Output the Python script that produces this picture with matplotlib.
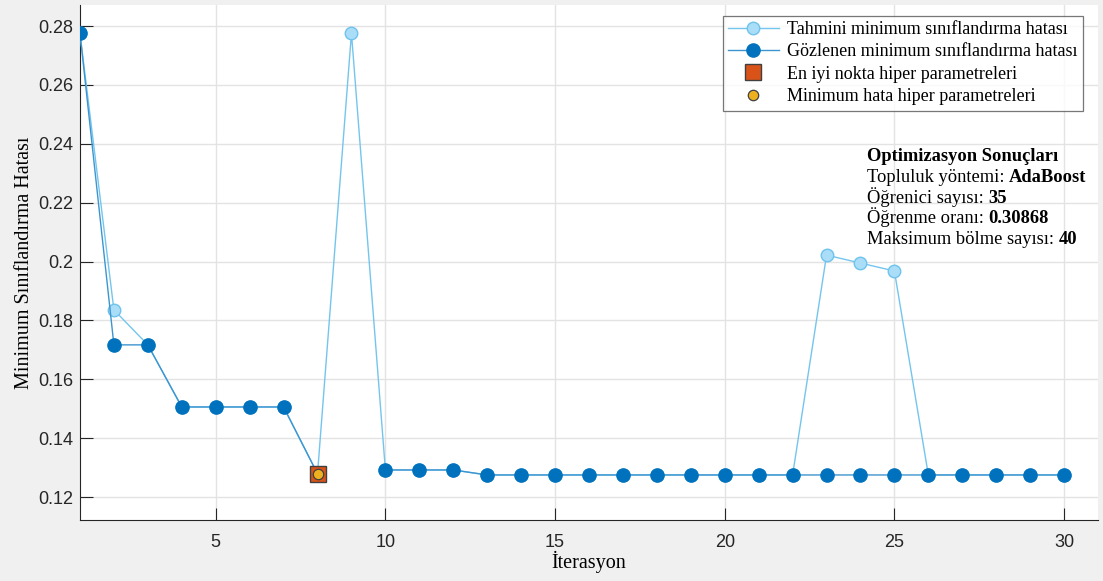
import numpy as np
import matplotlib
matplotlib.use("Agg")
import matplotlib.pyplot as plt

# iterasyon ve hata degerleri
iterasyon = np.arange(1, 31)
tahmini = [0.2776, 0.1836, 0.1717, 0.1506, 0.1506, 0.1506, 0.1506, 0.1279, 0.2776, 0.1292,
           0.1292, 0.1292, 0.1275, 0.1275, 0.1275, 0.1275, 0.1275, 0.1275, 0.1275, 0.1275,
           0.1275, 0.1275, 0.2022, 0.1995, 0.1968, 0.1275, 0.1275, 0.1275, 0.1275, 0.1275]
gozlenen = [0.2776, 0.1717, 0.1717, 0.1506, 0.1506, 0.1506, 0.1506, 0.1279, np.nan, 0.1292,
            0.1292, 0.1292, 0.1275, 0.1275, 0.1275, 0.1275, 0.1275, 0.1275, 0.1275, 0.1275,
            0.1275, 0.1275, 0.1275, 0.1275, 0.1275, 0.1275, 0.1275, 0.1275, 0.1275, 0.1275]
en_iyi = (8, 0.1279)
min_hata = (8, 0.1279)

x_ticks = [5, 10, 15, 20, 25, 30]
y_ticks = [0.12, 0.14, 0.16, 0.18, 0.2, 0.22, 0.24, 0.26, 0.28]
y_tick_labels = ["0.12", "0.14", "0.16", "0.18", "0.2", "0.22", "0.24", "0.26", "0.28"]

serif = "Liberation Serif"
sans = "Liberation Sans"

fig = plt.figure(figsize=(11.03, 5.81), dpi=100, facecolor="#f0f0f0")
ax = fig.add_axes([0.0725, 0.105, 0.923, 0.886])

ax.plot(iterasyon, tahmini, "-o", color="#74c5ee", lw=1.0, ms=9,
        mfc="#a9ddf8", mec="#6fc3ec", label="Tahmini minimum sınıflandırma hatası", zorder=3)
ax.plot(iterasyon, gozlenen, "-o", color="#3d95d0", lw=1.0, ms=9.5,
        mfc="#0072bd", mec="#0072bd", label="Gözlenen minimum sınıflandırma hatası", zorder=4)
ax.plot(*en_iyi, "s", ms=11, mfc="#d95319", mec="#404040", mew=1.0,
        label="En iyi nokta hiper parametreleri", zorder=5)
ax.plot(*min_hata, "o", ms=7.5, mfc="#edb120", mec="#404040", mew=0.9,
        label="Minimum hata hiper parametreleri", zorder=6)

ax.set_xlim(1, 31)
ax.set_ylim(0.1122, 0.2871)
ax.set_xticks(x_ticks)
ax.set_yticks(y_ticks)
ax.set_yticklabels(y_tick_labels)
ax.tick_params(direction="in", length=9, width=0.8, colors="#262626", labelsize=13)
for lab in ax.get_xticklabels() + ax.get_yticklabels():
    lab.set_fontfamily(sans)
ax.tick_params(axis="x", pad=10)
ax.tick_params(axis="y", pad=5)

ax.grid(True, color="#e3e3e3", lw=1.0)
ax.set_axisbelow(True)
for s in ["top", "right"]:
    ax.spines[s].set_visible(False)
for s in ["left", "bottom"]:
    ax.spines[s].set_color("#262626")
    ax.spines[s].set_linewidth(0.8)

ax.set_xlabel("İterasyon", fontfamily=serif, fontsize=14.5, labelpad=0)
ax.set_ylabel("Minimum Sınıflandırma Hatası", fontfamily=serif, fontsize=14.5, labelpad=3)

leg = ax.legend(loc="upper right", bbox_to_anchor=(0.985, 0.98),
                prop={"family": serif, "size": 13}, frameon=True, fancybox=False,
                borderpad=0.3, labelspacing=0.3, handlelength=2.8, handletextpad=0.45,
                borderaxespad=0)
leg.get_frame().set_edgecolor("#555555")
leg.get_frame().set_linewidth(0.9)

# sonuc metni
satirlar = [("", "Optimizasyon Sonuçları"),
            ("Topluluk yöntemi: ", "AdaBoost"),
            ("Öğrenici sayısı: ", "35"),
            ("Öğrenme oranı: ", "0.30868"),
            ("Maksimum bölme sayısı: ", "40")]
x0, y0, dy = 0.773, 0.697, 0.0403
fig.canvas.draw()
renderer = fig.canvas.get_renderer()
for i, (normal, kalin) in enumerate(satirlar):
    y = y0 - i * dy
    x1 = x0
    if normal:
        t = ax.text(x0, y, normal, transform=ax.transAxes, fontfamily=serif, fontsize=13.3,
                    va="baseline", ha="left")
        bb = t.get_window_extent(renderer)
        x1 = ax.transAxes.inverted().transform((bb.x1, bb.y0))[0]
    ax.text(x1, y, kalin, transform=ax.transAxes, fontfamily=serif, fontsize=13.3,
            fontweight="bold", va="baseline", ha="left")

fig.savefig("out.png", dpi=100, facecolor=fig.get_facecolor())
